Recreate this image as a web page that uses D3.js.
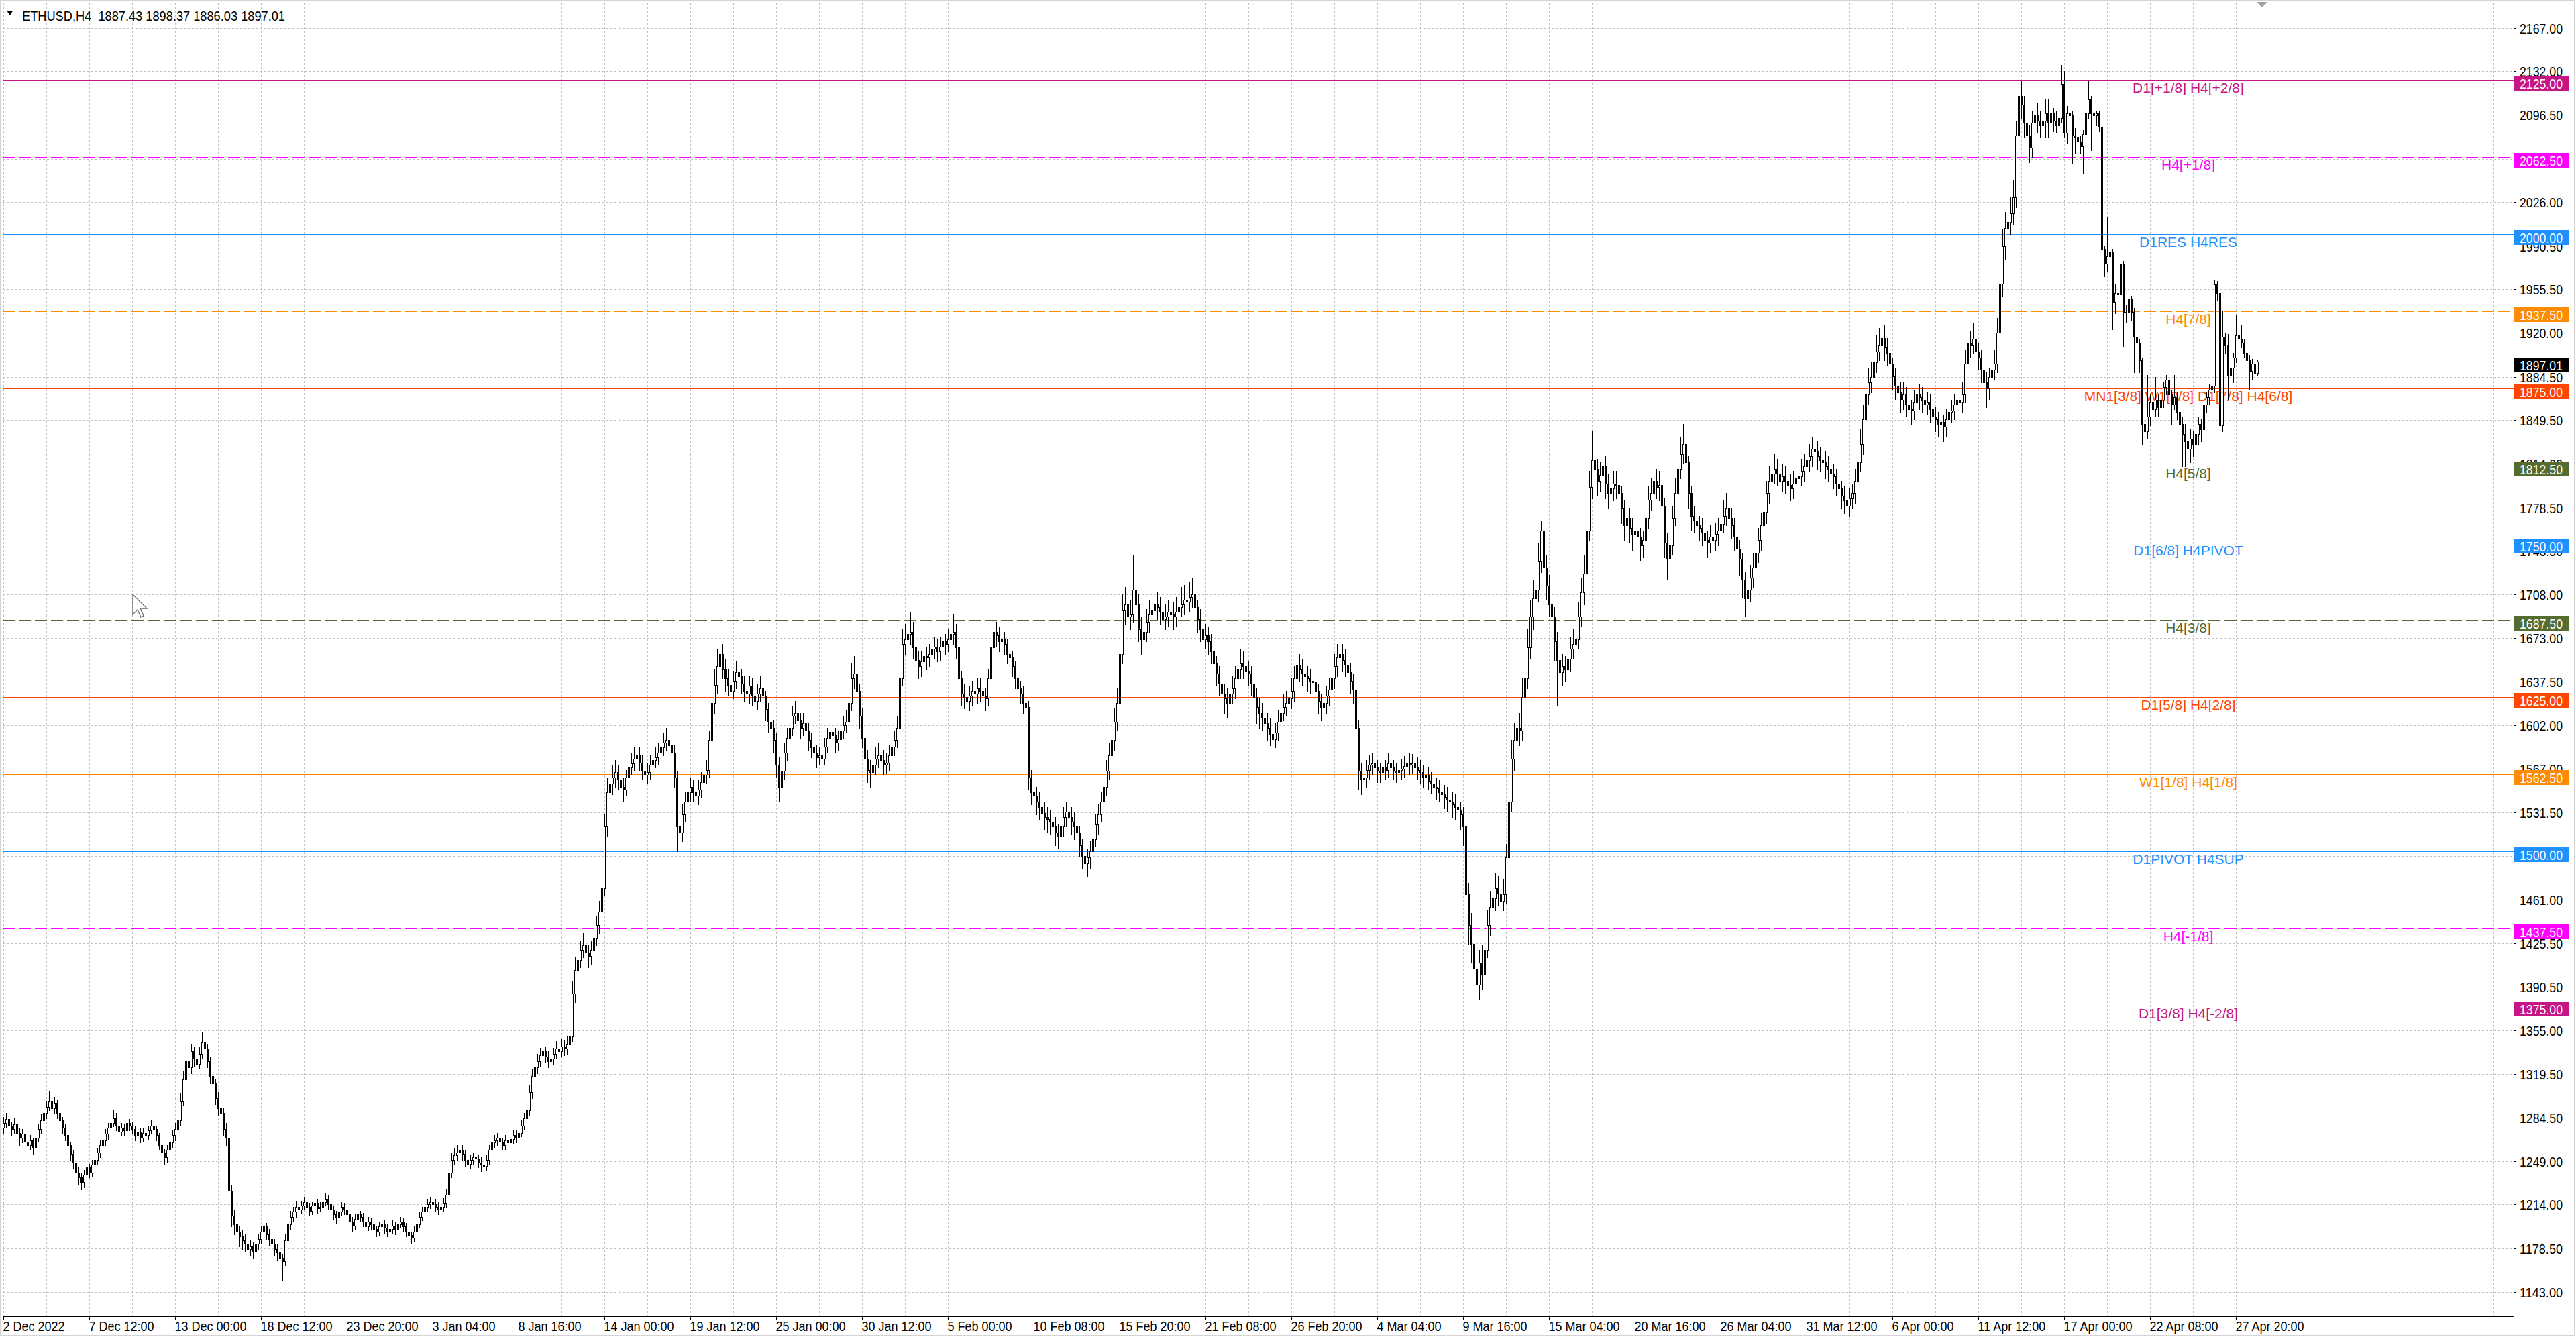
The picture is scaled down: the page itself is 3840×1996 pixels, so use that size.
<!DOCTYPE html>
<html><head><meta charset="utf-8">
<script src="https://cdn.jsdelivr.net/npm/d3@7"></script>
<style>html,body{margin:0;padding:0;background:#fff;overflow:hidden}svg{display:block}</style>
</head><body>
<svg id="chart" width="3840" height="1996"></svg>
<script>
const chartTitle = "ETHUSD,H4  1887.43 1898.37 1886.03 1897.01";
const timeLabels = ["2 Dec 2022","7 Dec 12:00","13 Dec 00:00","18 Dec 12:00","23 Dec 20:00","3 Jan 04:00","8 Jan 16:00","14 Jan 00:00","19 Jan 12:00","25 Jan 00:00","30 Jan 12:00","5 Feb 00:00","10 Feb 08:00","15 Feb 20:00","21 Feb 08:00","26 Feb 20:00","4 Mar 04:00","9 Mar 16:00","15 Mar 04:00","20 Mar 16:00","26 Mar 04:00","31 Mar 12:00","6 Apr 00:00","11 Apr 12:00","17 Apr 00:00","22 Apr 08:00","27 Apr 20:00"];
const priceTicks = [2167,2132,2096.5,2061,2026,1990.5,1955.5,1920,1884.5,1849.5,1814,1778.5,1743.5,1708,1673,1637.5,1602,1567,1531.5,1496,1461,1425.5,1390.5,1355,1319.5,1284.5,1249,1214,1178.5,1143];
const levelValues = [2125,2062.5,2000,1937.5,1875,1812.5,1750,1687.5,1625,1562.5,1500,1437.5,1375];
const levelNames = ["D1[+1/8] H4[+2/8]","H4[+1/8]","D1RES H4RES","H4[7/8]","MN1[3/8] W1[2/8] D1[7/8] H4[6/8]","H4[5/8]","D1[6/8] H4PIVOT","H4[3/8]","D1[5/8] H4[2/8]","W1[1/8] H4[1/8]","D1PIVOT H4SUP","H4[-1/8]","D1[3/8] H4[-2/8]"];
const levelColors = ["#C71585","#FF00FF","#1E90FF","#FF8C00","#FF4500","#556B2F","#1E90FF","#556B2F","#FF4500","#FF8C00","#1E90FF","#FF00FF","#C71585"];
const levelDashed = [false,true,false,true,false,true,false,true,false,false,false,true,false];
const levelWidths = [1,1,1,1,2,1,1,1,1,1,1,1,1];
const lastPrice = 1897.01;

const opens = [
1276,1280,1283,1278,1275,1279,1272,1268,1271,1265,1262,1266,1260,1268,1275,1282,1288,1293,1298,1292,
1296,1288,1282,1276,1270,1262,1255,1248,1240,1236,1232,1238,1244,1240,1246,1250,1256,1262,1266,1271,
1276,1280,1284,1278,1273,1276,1274,1280,1278,1275,1270,1273,1268,1272,1270,1274,1278,1275,1270,1262,
1256,1252,1258,1264,1270,1275,1282,1298,1315,1330,1325,1338,1332,1328,1336,1345,1340,1330,1318,1312,
1300,1292,1288,1275,1268,1225,1205,1198,1192,1188,1185,1182,1178,1180,1176,1182,1186,1192,1196,1190,
1186,1182,1178,1175,1170,1168,1185,1198,1204,1208,1212,1210,1213,1216,1212,1209,1213,1215,1211,1212,
1216,1218,1214,1210,1206,1204,1208,1212,1210,1206,1200,1197,1202,1206,1204,1200,1196,1200,1198,1194,
1192,1196,1198,1195,1192,1194,1197,1194,1198,1200,1196,1192,1189,1187,1192,1198,1204,1208,1212,1214,
1216,1214,1212,1210,1212,1215,1222,1240,1250,1254,1256,1258,1255,1250,1247,1250,1252,1251,1248,1246,
1245,1250,1258,1264,1266,1268,1265,1262,1266,1264,1267,1270,1268,1272,1278,1284,1290,1305,1318,1325,
1330,1335,1338,1334,1330,1332,1336,1340,1338,1342,1340,1344,1350,1385,1404,1412,1420,1424,1418,1415,
1420,1430,1440,1451,1470,1520,1548,1555,1560,1564,1558,1552,1550,1560,1568,1571,1575,1578,1572,1565,
1562,1564,1570,1574,1576,1580,1584,1588,1590,1586,1580,1560,1520,1515,1530,1540,1548,1552,1548,1545,
1550,1556,1562,1566,1590,1620,1635,1650,1660,1648,1640,1635,1630,1638,1645,1642,1636,1630,1628,1634,
1626,1622,1628,1632,1626,1615,1605,1600,1590,1570,1552,1565,1580,1592,1600,1610,1612,1606,1600,1604,
1598,1590,1584,1580,1576,1578,1575,1585,1592,1597,1594,1588,1591,1598,1602,1605,1620,1640,1644,1630,
1610,1592,1575,1566,1564,1570,1575,1578,1574,1570,1572,1578,1585,1590,1600,1640,1668,1672,1676,1678,
1665,1655,1650,1654,1658,1657,1660,1664,1666,1662,1666,1670,1668,1672,1676,1678,1665,1640,1628,1625,
1622,1626,1630,1628,1632,1630,1626,1624,1640,1665,1678,1675,1670,1672,1668,1660,1657,1650,1640,1632,
1628,1620,1617,1560,1548,1545,1540,1536,1531,1528,1526,1524,1520,1515,1512,1520,1528,1532,1528,1524,
1520,1515,1505,1496,1490,1495,1500,1510,1522,1530,1540,1552,1565,1578,1590,1605,1620,1660,1695,1700,
1690,1692,1712,1700,1680,1672,1678,1686,1692,1695,1700,1698,1694,1688,1690,1694,1692,1690,1694,1698,
1700,1704,1702,1706,1708,1698,1688,1680,1672,1675,1670,1662,1652,1644,1636,1628,1624,1620,1628,1632,
1640,1648,1652,1650,1646,1644,1636,1625,1617,1612,1608,1604,1600,1595,1591,1596,1605,1612,1617,1620,
1624,1630,1640,1651,1648,1644,1642,1640,1638,1637,1630,1622,1617,1620,1626,1631,1640,1650,1657,1660,
1655,1651,1645,1638,1631,1600,1565,1558,1560,1566,1570,1571,1568,1565,1564,1568,1566,1571,1568,1565,
1564,1566,1567,1569,1572,1570,1571,1568,1566,1564,1560,1562,1557,1555,1552,1551,1548,1546,1544,1542,
1540,1538,1536,1534,1530,1520,1465,1440,1425,1405,1392,1410,1400,1420,1440,1455,1462,1470,1466,1460,
1465,1495,1540,1575,1590,1600,1598,1625,1640,1665,1690,1705,1712,1735,1760,1730,1715,1700,1690,1670,
1655,1645,1650,1648,1656,1664,1668,1672,1690,1710,1725,1760,1795,1817,1810,1800,1805,1812,1798,1790,
1794,1798,1797,1790,1778,1764,1770,1762,1757,1760,1755,1748,1752,1770,1785,1790,1800,1795,1797,1780,
1750,1737,1748,1770,1790,1810,1822,1830,1815,1790,1772,1768,1764,1762,1758,1752,1750,1755,1752,1757,
1760,1765,1772,1778,1770,1764,1755,1745,1737,1720,1705,1712,1722,1730,1742,1752,1764,1775,1790,1800,
1806,1810,1806,1800,1804,1800,1797,1794,1798,1802,1804,1808,1812,1817,1820,1826,1824,1820,1817,1815,
1812,1810,1806,1804,1798,1794,1788,1784,1780,1786,1790,1800,1815,1830,1850,1870,1880,1884,1896,1905,
1910,1916,1908,1904,1895,1885,1877,1872,1866,1870,1862,1858,1857,1864,1870,1868,1865,1862,1864,1858,
1852,1850,1846,1848,1844,1850,1856,1857,1862,1866,1864,1870,1895,1912,1910,1915,1905,1900,1890,1880,
1875,1884,1890,1895,1920,1960,1990,2005,2010,2017,2030,2080,2112,2105,2090,2080,2070,2090,2096,2092,
2088,2092,2098,2090,2098,2092,2088,2094,2122,2082,2098,2096,2080,2079,2075,2071,2081,2098,2109,2098,
2096,2098,2087,1988,1976,1982,1986,1945,1952,1951,1976,1937,1937,1948,1937,1917,1912,1898,1846,1840,
1852,1864,1858,1866,1860,1866,1876,1882,1870,1862,1868,1856,1846,1838,1832,1826,1834,1830,1838,1846,
1842,1862,1868,1874,1877,1959,1952,1845,1917,1910,1886,1892,1900,1918,1915,1912,1904,1898,1889,1895,
1887.43];

const highs = [
1285,1288,1286,1281,1284,1282,1276,1275,1273,1268,1270,1268,1272,1279,1287,1292,1298,1306,1302,1301,
1299,1291,1285,1279,1273,1265,1258,1252,1244,1240,1242,1248,1247,1250,1254,1260,1266,1270,1275,1280,
1285,1290,1288,1281,1280,1279,1284,1283,1281,1278,1277,1276,1276,1275,1278,1282,1281,1278,1272,1265,
1259,1262,1268,1274,1280,1288,1304,1322,1340,1336,1344,1342,1336,1342,1354,1350,1344,1334,1322,1316,
1305,1296,1292,1280,1272,1230,1210,1203,1197,1193,1190,1186,1185,1184,1186,1190,1197,1200,1199,1194,
1190,1186,1182,1178,1174,1190,1203,1209,1212,1217,1216,1217,1220,1219,1215,1216,1219,1218,1216,1220,
1223,1221,1217,1213,1209,1212,1216,1215,1213,1209,1204,1206,1210,1209,1207,1203,1204,1203,1201,1197,
1200,1202,1201,1198,1198,1201,1200,1202,1204,1203,1199,1195,1192,1196,1202,1208,1212,1216,1218,1220,
1220,1218,1216,1216,1219,1226,1246,1256,1260,1262,1264,1262,1258,1254,1254,1256,1256,1254,1252,1250,
1254,1262,1268,1270,1272,1271,1268,1270,1269,1271,1274,1274,1276,1282,1288,1295,1311,1324,1331,1336,
1341,1344,1342,1338,1337,1341,1346,1345,1348,1347,1350,1356,1395,1414,1420,1428,1434,1430,1424,1428,
1438,1448,1460,1482,1530,1560,1566,1570,1574,1570,1564,1560,1566,1575,1580,1584,1588,1585,1578,1572,
1572,1578,1582,1584,1588,1592,1596,1600,1598,1592,1586,1565,1530,1538,1548,1556,1560,1558,1554,1558,
1564,1570,1574,1598,1630,1648,1664,1676,1668,1656,1648,1642,1646,1654,1652,1648,1642,1638,1642,1640,
1634,1636,1642,1640,1630,1620,1612,1606,1596,1576,1572,1588,1600,1608,1618,1622,1618,1612,1612,1610,
1604,1596,1590,1586,1585,1584,1592,1600,1605,1604,1600,1598,1605,1610,1614,1630,1652,1658,1650,1636,
1616,1598,1582,1574,1578,1584,1588,1586,1582,1580,1586,1594,1598,1610,1650,1680,1684,1688,1694,1686,
1672,1662,1662,1666,1666,1668,1672,1674,1672,1674,1678,1676,1680,1686,1692,1684,1670,1646,1636,1632,
1634,1638,1638,1640,1640,1636,1632,1648,1674,1690,1686,1682,1680,1678,1672,1666,1662,1654,1646,1638,
1634,1628,1622,1566,1556,1552,1548,1544,1540,1536,1534,1532,1528,1522,1528,1536,1540,1540,1536,1532,
1528,1520,1510,1502,1502,1508,1518,1530,1538,1548,1560,1574,1588,1600,1616,1632,1672,1708,1714,1712,
1704,1740,1722,1708,1690,1688,1696,1704,1708,1712,1710,1706,1700,1700,1704,1704,1702,1706,1710,1714,
1716,1714,1718,1722,1716,1704,1696,1688,1684,1682,1676,1668,1658,1650,1642,1636,1632,1636,1642,1650,
1658,1664,1662,1658,1654,1650,1642,1632,1624,1620,1616,1612,1608,1602,1604,1614,1622,1628,1630,1634,
1640,1650,1662,1660,1656,1652,1650,1648,1646,1644,1636,1628,1628,1634,1640,1648,1660,1668,1672,1668,
1664,1658,1652,1644,1636,1606,1572,1568,1574,1578,1580,1578,1574,1572,1576,1574,1580,1578,1574,1572,
1574,1575,1577,1580,1580,1579,1578,1576,1574,1570,1570,1568,1564,1562,1560,1558,1556,1554,1552,1550,
1548,1546,1544,1540,1536,1526,1474,1450,1434,1412,1420,1424,1432,1452,1468,1476,1482,1480,1474,1478,
1506,1555,1590,1604,1614,1612,1640,1656,1680,1704,1720,1728,1750,1768,1768,1740,1724,1710,1698,1678,
1664,1660,1658,1666,1674,1680,1684,1702,1722,1740,1772,1808,1840,1830,1818,1816,1824,1820,1806,1804,
1808,1808,1804,1796,1784,1780,1778,1770,1770,1768,1762,1760,1780,1796,1802,1812,1810,1808,1804,1786,
1758,1756,1780,1802,1822,1836,1846,1838,1820,1796,1780,1776,1772,1770,1766,1760,1764,1762,1766,1770,
1776,1784,1790,1786,1778,1770,1762,1752,1742,1726,1722,1732,1742,1752,1762,1774,1786,1800,1812,1818,
1822,1818,1814,1814,1812,1810,1806,1808,1812,1814,1818,1822,1828,1830,1836,1834,1832,1828,1826,1824,
1820,1818,1814,1810,1806,1800,1796,1792,1794,1798,1810,1826,1842,1862,1882,1892,1896,1908,1918,1924,
1930,1926,1916,1910,1900,1892,1884,1880,1880,1876,1870,1866,1874,1880,1878,1876,1872,1872,1870,1864,
1860,1856,1856,1854,1858,1864,1866,1870,1874,1874,1880,1906,1926,1922,1928,1920,1912,1906,1896,1888,
1892,1900,1906,1932,1972,2004,2018,2022,2030,2044,2092,2126,2124,2112,2098,2088,2100,2108,2106,2100,
2104,2110,2109,2109,2102,2100,2102,2137,2132,2104,2106,2100,2086,2082,2080,2084,2102,2124,2112,2100,
2100,2100,2090,1990,2014,1990,1988,1960,1957,1985,1978,1943,1952,1950,1940,1920,1915,1900,1852,1886,
1870,1886,1884,1870,1874,1880,1886,1886,1874,1886,1872,1866,1852,1846,1840,1842,1840,1844,1852,1850,
1870,1872,1878,1880,1963,1962,1956,1938,1920,1919,1898,1904,1934,1922,1926,1915,1908,1902,1899,1898,
1898.37];

const lows = [
1272,1276,1274,1270,1272,1268,1262,1264,1260,1256,1258,1255,1257,1265,1272,1279,1284,1290,1287,1288,
1284,1278,1272,1266,1258,1250,1243,1235,1230,1226,1228,1234,1236,1237,1242,1247,1252,1258,1262,1267,
1272,1277,1274,1269,1270,1270,1271,1274,1271,1266,1266,1264,1265,1266,1267,1271,1271,1266,1258,1251,
1246,1248,1255,1260,1266,1272,1278,1294,1310,1318,1320,1326,1320,1324,1332,1334,1325,1312,1305,1295,
1286,1282,1270,1262,1215,1196,1190,1186,1180,1178,1176,1172,1173,1170,1172,1178,1182,1188,1186,1181,
1177,1173,1169,1164,1152,1165,1182,1194,1200,1204,1206,1207,1210,1208,1205,1206,1210,1207,1208,1209,
1213,1210,1206,1202,1199,1201,1205,1206,1202,1196,1192,1194,1199,1200,1196,1192,1193,1194,1190,1188,
1189,1193,1191,1188,1189,1191,1190,1191,1195,1192,1188,1184,1182,1184,1189,1195,1201,1205,1209,1211,
1210,1208,1206,1207,1209,1212,1219,1236,1246,1250,1252,1250,1245,1242,1243,1246,1247,1244,1241,1240,
1242,1247,1255,1260,1262,1261,1258,1259,1260,1261,1263,1264,1265,1269,1275,1280,1286,1300,1314,1320,
1326,1330,1329,1325,1326,1328,1332,1333,1334,1335,1336,1340,1346,1378,1398,1406,1414,1410,1406,1408,
1414,1424,1434,1445,1464,1512,1540,1546,1552,1550,1544,1540,1545,1554,1562,1565,1568,1565,1558,1554,
1555,1558,1564,1568,1570,1574,1578,1582,1578,1572,1552,1500,1496,1508,1524,1534,1540,1540,1536,1538,
1544,1550,1555,1560,1584,1612,1628,1642,1640,1630,1626,1620,1624,1632,1634,1628,1622,1618,1620,1618,
1614,1615,1622,1618,1606,1596,1590,1580,1560,1540,1546,1558,1574,1586,1594,1604,1598,1592,1594,1590,
1582,1576,1572,1568,1570,1566,1570,1580,1586,1588,1580,1582,1586,1592,1596,1600,1614,1632,1622,1600,
1584,1566,1556,1552,1556,1562,1568,1566,1562,1563,1566,1572,1578,1584,1594,1634,1660,1664,1668,1656,
1646,1640,1642,1646,1648,1650,1652,1656,1654,1655,1660,1660,1662,1666,1668,1656,1630,1618,1616,1612,
1614,1618,1620,1620,1622,1618,1614,1618,1634,1658,1666,1662,1662,1660,1652,1648,1642,1632,1624,1620,
1612,1608,1550,1538,1536,1530,1526,1522,1518,1516,1514,1510,1505,1502,1504,1512,1520,1518,1514,1510,
1506,1496,1486,1466,1480,1486,1494,1504,1514,1524,1532,1545,1558,1570,1582,1598,1614,1652,1684,1680,
1680,1686,1690,1670,1660,1664,1670,1678,1684,1688,1688,1684,1678,1680,1682,1684,1680,1682,1686,1690,
1692,1694,1694,1698,1690,1678,1670,1662,1664,1660,1652,1642,1634,1626,1618,1612,1608,1612,1620,1624,
1632,1640,1640,1636,1634,1626,1614,1604,1600,1598,1594,1590,1586,1580,1584,1590,1598,1606,1610,1612,
1616,1622,1632,1638,1634,1632,1630,1628,1626,1620,1612,1606,1608,1612,1618,1624,1632,1642,1648,1646,
1642,1636,1628,1620,1590,1550,1546,1548,1552,1558,1562,1560,1556,1556,1558,1558,1560,1561,1558,1556,
1557,1559,1560,1562,1562,1563,1560,1558,1555,1552,1553,1550,1547,1544,1542,1540,1538,1535,1532,1530,
1528,1526,1524,1518,1505,1452,1425,1410,1390,1368,1380,1388,1394,1414,1432,1446,1452,1456,1450,1452,
1458,1488,1532,1565,1580,1586,1590,1615,1632,1656,1680,1696,1702,1726,1718,1704,1690,1676,1655,1618,
1622,1634,1638,1640,1646,1656,1660,1664,1682,1700,1718,1752,1786,1798,1788,1792,1798,1786,1778,1780,
1784,1786,1778,1766,1752,1754,1750,1744,1746,1744,1736,1738,1746,1762,1776,1782,1786,1784,1768,1738,
1720,1728,1740,1764,1782,1802,1814,1806,1778,1760,1758,1754,1752,1748,1740,1738,1742,1742,1744,1748,
1752,1758,1764,1760,1754,1744,1734,1724,1706,1690,1694,1702,1714,1722,1734,1744,1756,1766,1782,1792,
1798,1796,1790,1792,1790,1786,1784,1786,1790,1794,1796,1800,1804,1808,1812,1814,1810,1808,1806,1802,
1800,1796,1794,1788,1784,1778,1774,1768,1772,1778,1782,1792,1808,1822,1842,1862,1872,1876,1888,1898,
1902,1898,1894,1884,1874,1866,1862,1856,1858,1852,1848,1846,1850,1856,1858,1856,1852,1854,1848,1842,
1840,1836,1838,1832,1836,1842,1848,1850,1854,1856,1856,1864,1886,1900,1904,1894,1890,1880,1868,1860,
1866,1876,1882,1888,1912,1950,1980,1996,2000,2008,2022,2072,2094,2078,2068,2058,2062,2084,2082,2078,
2080,2078,2078,2083,2083,2082,2078,2090,2078,2074,2088,2057,2066,2065,2065,2049,2078,2094,2068,2090,
2088,2083,1966,1966,1970,1974,1923,1936,1944,1946,1909,1928,1930,1930,1888,1904,1888,1830,1826,1835,
1845,1850,1852,1852,1855,1860,1870,1864,1846,1858,1850,1840,1812,1812,1813,1815,1820,1824,1830,1832,
1838,1856,1862,1868,1872,1946,1786,1840,1904,1866,1870,1880,1896,1910,1908,1900,1886,1874,1882,1884,
1886.03];

const closes = [
1280,1283,1278,1275,1279,1272,1268,1271,1265,1262,1266,1260,1268,1275,1282,1288,1293,1298,1292,1296,
1288,1282,1276,1270,1262,1255,1248,1240,1236,1232,1238,1244,1240,1246,1250,1256,1262,1266,1271,1276,
1280,1284,1278,1273,1276,1274,1280,1278,1275,1270,1273,1268,1272,1270,1274,1278,1275,1270,1262,1256,
1252,1258,1264,1270,1275,1282,1298,1315,1330,1325,1338,1332,1328,1336,1345,1340,1330,1318,1312,1300,
1292,1288,1275,1268,1225,1205,1198,1192,1188,1185,1182,1178,1180,1176,1182,1186,1192,1196,1190,1186,
1182,1178,1175,1170,1168,1185,1198,1204,1208,1212,1210,1213,1216,1212,1209,1213,1215,1211,1212,1216,
1218,1214,1210,1206,1204,1208,1212,1210,1206,1200,1197,1202,1206,1204,1200,1196,1200,1198,1194,1192,
1196,1198,1195,1192,1194,1197,1194,1198,1200,1196,1192,1189,1187,1192,1198,1204,1208,1212,1214,1216,
1214,1212,1210,1212,1215,1222,1240,1250,1254,1256,1258,1255,1250,1247,1250,1252,1251,1248,1246,1245,
1250,1258,1264,1266,1268,1265,1262,1266,1264,1267,1270,1268,1272,1278,1284,1290,1305,1318,1325,1330,
1335,1338,1334,1330,1332,1336,1340,1338,1342,1340,1344,1350,1385,1404,1412,1420,1424,1418,1415,1420,
1430,1440,1451,1470,1520,1548,1555,1560,1564,1558,1552,1550,1560,1568,1571,1575,1578,1572,1565,1562,
1564,1570,1574,1576,1580,1584,1588,1590,1586,1580,1560,1520,1515,1530,1540,1548,1552,1548,1545,1550,
1556,1562,1566,1590,1620,1635,1650,1660,1648,1640,1635,1630,1638,1645,1642,1636,1630,1628,1634,1626,
1622,1628,1632,1626,1615,1605,1600,1590,1570,1552,1565,1580,1592,1600,1610,1612,1606,1600,1604,1598,
1590,1584,1580,1576,1578,1575,1585,1592,1597,1594,1588,1591,1598,1602,1605,1620,1640,1644,1630,1610,
1592,1575,1566,1564,1570,1575,1578,1574,1570,1572,1578,1585,1590,1600,1640,1668,1672,1676,1678,1665,
1655,1650,1654,1658,1657,1660,1664,1666,1662,1666,1670,1668,1672,1676,1678,1665,1640,1628,1625,1622,
1626,1630,1628,1632,1630,1626,1624,1640,1665,1678,1675,1670,1672,1668,1660,1657,1650,1640,1632,1628,
1620,1617,1560,1548,1545,1540,1536,1531,1528,1526,1524,1520,1515,1512,1520,1528,1532,1528,1524,1520,
1515,1505,1496,1490,1495,1500,1510,1522,1530,1540,1552,1565,1578,1590,1605,1620,1660,1695,1700,1690,
1692,1712,1700,1680,1672,1678,1686,1692,1695,1700,1698,1694,1688,1690,1694,1692,1690,1694,1698,1700,
1704,1702,1706,1708,1698,1688,1680,1672,1675,1670,1662,1652,1644,1636,1628,1624,1620,1628,1632,1640,
1648,1652,1650,1646,1644,1636,1625,1617,1612,1608,1604,1600,1595,1591,1596,1605,1612,1617,1620,1624,
1630,1640,1651,1648,1644,1642,1640,1638,1637,1630,1622,1617,1620,1626,1631,1640,1650,1657,1660,1655,
1651,1645,1638,1631,1600,1565,1558,1560,1566,1570,1571,1568,1565,1564,1568,1566,1571,1568,1565,1564,
1566,1567,1569,1572,1570,1571,1568,1566,1564,1560,1562,1557,1555,1552,1551,1548,1546,1544,1542,1540,
1538,1536,1534,1530,1520,1465,1440,1425,1405,1392,1410,1400,1420,1440,1455,1462,1470,1466,1460,1465,
1495,1540,1575,1590,1600,1598,1625,1640,1665,1690,1705,1712,1735,1760,1730,1715,1700,1690,1670,1655,
1645,1650,1648,1656,1664,1668,1672,1690,1710,1725,1760,1795,1817,1810,1800,1805,1812,1798,1790,1794,
1798,1797,1790,1778,1764,1770,1762,1757,1760,1755,1748,1752,1770,1785,1790,1800,1795,1797,1780,1750,
1737,1748,1770,1790,1810,1822,1830,1815,1790,1772,1768,1764,1762,1758,1752,1750,1755,1752,1757,1760,
1765,1772,1778,1770,1764,1755,1745,1737,1720,1705,1712,1722,1730,1742,1752,1764,1775,1790,1800,1806,
1810,1806,1800,1804,1800,1797,1794,1798,1802,1804,1808,1812,1817,1820,1826,1824,1820,1817,1815,1812,
1810,1806,1804,1798,1794,1788,1784,1780,1786,1790,1800,1815,1830,1850,1870,1880,1884,1896,1905,1910,
1916,1908,1904,1895,1885,1877,1872,1866,1870,1862,1858,1857,1864,1870,1868,1865,1862,1864,1858,1852,
1850,1846,1848,1844,1850,1856,1857,1862,1866,1864,1870,1895,1912,1910,1915,1905,1900,1890,1880,1875,
1884,1890,1895,1920,1960,1990,2005,2010,2017,2030,2080,2112,2105,2090,2080,2070,2090,2096,2092,2088,
2092,2098,2090,2098,2092,2088,2094,2122,2082,2098,2096,2080,2079,2075,2071,2081,2098,2109,2098,2096,
2098,2087,1988,1976,1982,1986,1945,1952,1951,1976,1937,1937,1948,1937,1917,1912,1898,1846,1840,1852,
1864,1858,1866,1860,1866,1876,1882,1870,1862,1868,1856,1846,1838,1832,1826,1834,1830,1838,1846,1842,
1862,1868,1874,1877,1959,1952,1845,1917,1910,1886,1892,1900,1918,1915,1912,1904,1898,1889,1895,1887,
1897.01];

(function () {
const W = 3840, H = 1996;
const plot = {left: 4, top: 4, right: 3747, bottom: 1962};
const barsPerLabel = 32, barsPerGrid = 16;
const axisFont = "'Liberation Sans',Arial,sans-serif";
const labelFont = "'Liberation Sans',Arial,sans-serif";

// squeeze text horizontally to imitate the terminal's narrow UI font
function condense(sel, factor) {
  sel.each(function () {
    const w = this.getComputedTextLength();
    d3.select(this).attr('textLength', (w * factor).toFixed(1)).attr('lengthAdjust', 'spacingAndGlyphs');
  });
}

const x = d3.scaleLinear().domain([-0.25, 935.5]).range([plot.left, plot.right]);
const y = d3.scaleLinear().domain([1143, 2167]).range([1926, 41.7]);

const svg = d3.select('#chart');
svg.append('rect').attr('width', W).attr('height', H).attr('fill', '#fff');
svg.append('rect').attr('x', 0.5).attr('y', 0.5).attr('width', 3837).attr('height', 1990)
  .attr('fill', 'none').attr('stroke', '#d4d4d4');

// grid
const grid = svg.append('g').attr('shape-rendering', 'crispEdges').attr('stroke', '#c0c0c0').attr('stroke-dasharray', '3,3');
grid.selectAll('line.h').data(priceTicks).join('line').attr('class', 'h')
  .attr('x1', plot.left).attr('x2', plot.right)
  .attr('y1', d => Math.round(y(d)) + 0.5).attr('y2', d => Math.round(y(d)) + 0.5);
const gridBars = d3.range(0, 936, barsPerGrid);
grid.selectAll('line.v').data(gridBars).join('line').attr('class', 'v')
  .attr('y1', plot.top).attr('y2', plot.bottom)
  .attr('x1', d => Math.round(x(d)) + 0.5).attr('x2', d => Math.round(x(d)) + 0.5);

// level lines
const lv = d3.range(levelValues.length);
const lines = svg.append('g').attr('shape-rendering', 'crispEdges');
lines.selectAll('line').data(lv).join('line')
  .attr('x1', plot.left).attr('x2', plot.right)
  .attr('y1', i => Math.round(y(levelValues[i])) + (levelWidths[i] % 2 ? 0.5 : 0))
  .attr('y2', i => Math.round(y(levelValues[i])) + (levelWidths[i] % 2 ? 0.5 : 0))
  .attr('stroke', i => levelColors[i]).attr('stroke-width', i => levelWidths[i])
  .attr('stroke-dasharray', i => levelDashed[i] ? '18,6' : null);
lines.append('line').attr('x1', plot.left).attr('x2', plot.right)
  .attr('y1', Math.round(y(lastPrice)) + 0.5).attr('y2', Math.round(y(lastPrice)) + 0.5)
  .attr('stroke', '#c0c0c0');

// level names
svg.append('g').selectAll('text').data(lv).join('text')
  .attr('x', 3262).attr('y', i => Math.round(y(levelValues[i])) + 19)
  .attr('text-anchor', 'middle').attr('font-family', labelFont).attr('font-size', 21)
  .attr('fill', i => levelColors[i]).text(i => levelNames[i]);

// candles
const idx = d3.range(closes.length);
const cg = svg.append('g').attr('shape-rendering', 'crispEdges');
const xc = i => Math.round(x(i));
const bTop = i => Math.round(y(Math.max(opens[i], closes[i])));
const bBot = i => Math.round(y(Math.min(opens[i], closes[i])));
cg.selectAll('rect.wick').data(idx).join('rect').attr('class', 'wick')
  .attr('x', i => xc(i)).attr('width', 1)
  .attr('y', i => Math.round(y(highs[i])))
  .attr('height', i => Math.max(1, Math.round(y(lows[i])) - Math.round(y(highs[i])) + 1))
  .attr('fill', '#000');
cg.selectAll('rect.body').data(idx).join('rect').attr('class', 'body')
  .attr('x', i => xc(i) - 1).attr('width', 3)
  .attr('y', i => bTop(i)).attr('height', i => Math.max(1, bBot(i) - bTop(i) + 1))
  .attr('fill', '#000');
const bulls = idx.filter(i => closes[i] > opens[i] && bBot(i) - bTop(i) + 1 >= 3);
cg.selectAll('rect.hollow').data(bulls).join('rect').attr('class', 'hollow')
  .attr('x', i => xc(i)).attr('width', 1)
  .attr('y', i => bTop(i) + 1).attr('height', i => bBot(i) - bTop(i) - 1)
  .attr('fill', '#fff');

// frame
svg.append('rect').attr('x', plot.left + 0.5).attr('y', plot.top + 0.5)
  .attr('width', plot.right - plot.left).attr('height', plot.bottom - plot.top)
  .attr('fill', 'none').attr('stroke', '#000').attr('shape-rendering', 'crispEdges');

// right price axis
const yAxis = d3.axisRight(y).tickValues(priceTicks).tickSize(4).tickPadding(5)
  .tickFormat(d3.format('.2f'));
const ya = svg.append('g').attr('transform', `translate(${plot.right},0)`).call(yAxis);
ya.select('.domain').remove();
ya.selectAll('line').attr('stroke', '#000').attr('shape-rendering', 'crispEdges');
ya.selectAll('text').attr('font-family', axisFont).attr('font-size', 21).attr('fill', '#000')
  .attr('dy', '0.36em').attr('textLength', 64).attr('lengthAdjust', 'spacingAndGlyphs');

// price boxes
const boxes = svg.append('g');
const boxData = lv.map(i => ({v: levelValues[i], c: levelColors[i]})).concat([{v: lastPrice, c: '#000'}]);
boxes.selectAll('rect').data(boxData).join('rect')
  .attr('x', plot.right + 1).attr('width', 81)
  .attr('y', d => Math.round(y(d.v)) - 6).attr('height', 22)
  .attr('fill', d => d.c).attr('shape-rendering', 'crispEdges');
boxes.selectAll('text').data(boxData).join('text')
  .attr('x', plot.right + 9).attr('y', d => Math.round(y(d.v)) + 12.5)
  .attr('font-family', axisFont).attr('font-size', 21).attr('fill', '#fff')
  .attr('textLength', 64).attr('lengthAdjust', 'spacingAndGlyphs')
  .text(d => d3.format('.2f')(d.v));

// bottom time axis
const labelBars = d3.range(timeLabels.length).map(k => k * barsPerLabel);
const xAxis = d3.axisBottom(x).tickValues(labelBars).tickSize(5).tickPadding(4)
  .tickFormat((d, k) => timeLabels[k]);
const xa = svg.append('g').attr('transform', `translate(0,${plot.bottom})`).call(xAxis);
xa.select('.domain').remove();
xa.selectAll('line').attr('stroke', '#000').attr('shape-rendering', 'crispEdges');
const xt = xa.selectAll('text').attr('font-family', axisFont).attr('font-size', 20).attr('fill', '#000')
  .attr('text-anchor', 'start').attr('dx', -1).attr('dy', '0.65em');
condense(xt, 0.9);

// header
svg.append('path').attr('d', 'M10,16 L19.5,16 L14.75,23 Z').attr('fill', '#000');
svg.append('text').attr('x', 33).attr('y', 31).attr('font-family', axisFont)
  .attr('font-size', 21).attr('fill', '#000').style('white-space', 'pre')
  .attr('textLength', 392).attr('lengthAdjust', 'spacingAndGlyphs')
  .text(chartTitle);

// chart shift marker
svg.append('path').attr('d', 'M3364,3 L3380,3 L3372,11 Z').attr('fill', '#a0a0a0');

// mouse cursor
svg.append('path')
  .attr('d', 'M0,0 L0,30 L7,23 L12,34 L16,32 L11,21 L21,21 Z')
  .attr('transform', 'translate(198,886)')
  .attr('fill', '#fff').attr('stroke', '#666').attr('stroke-width', 1.3);
})();
</script>
</body></html>
